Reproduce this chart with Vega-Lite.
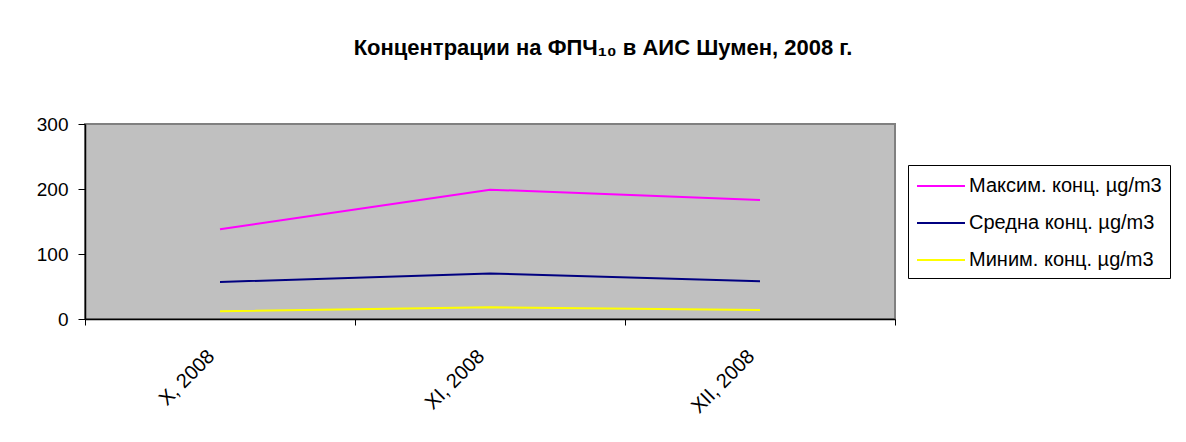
{
  "$schema": "https://vega.github.io/schema/vega-lite/v6.json",
  "autosize": {"type": "none"},
  "width": 810,
  "height": 195,
  "padding": {"left": 85, "top": 124, "right": 291, "bottom": 123},
  "background": "white",
  "title": {
    "text": "Концентрации на ФПЧ₁₀ в АИС Шумен, 2008 г.",
    "font": "Liberation Sans",
    "fontSize": 22,
    "fontWeight": "bold",
    "color": "black",
    "anchor": "middle",
    "frame": "group",
    "dx": 113,
    "baseline": "alphabetic",
    "offset": 38
  },
  "data": {
    "values": [
      {"month": "X, 2008", "series": "Максим. конц. µg/m3", "value": 138},
      {"month": "XI, 2008", "series": "Максим. конц. µg/m3", "value": 199},
      {"month": "XII, 2008", "series": "Максим. конц. µg/m3", "value": 183},
      {"month": "X, 2008", "series": "Средна конц. µg/m3", "value": 57},
      {"month": "XI, 2008", "series": "Средна конц. µg/m3", "value": 70},
      {"month": "XII, 2008", "series": "Средна конц. µg/m3", "value": 58},
      {"month": "X, 2008", "series": "Миним. конц. µg/m3", "value": 12},
      {"month": "XI, 2008", "series": "Миним. конц. µg/m3", "value": 18},
      {"month": "XII, 2008", "series": "Миним. конц. µg/m3", "value": 14}
    ]
  },
  "mark": {"type": "line", "strokeWidth": 2},
  "encoding": {
    "x": {
      "field": "month",
      "type": "nominal",
      "sort": ["X, 2008", "XI, 2008", "XII, 2008"],
      "bandPosition": 0.5,
      "scale": {"type": "band", "paddingInner": 0, "paddingOuter": 0},
      "axis": {
        "title": null,
        "labelAngle": -45,
        "labelAlign": "right",
        "labelBaseline": "middle",
        "labelOffset": -9,
        "labelFont": "Liberation Sans",
        "labelFontSize": 20,
        "labelColor": "black",
        "labelPadding": 28,
        "tickBand": "extent",
        "tickSize": 6,
        "tickColor": "black",
        "domainColor": "black",
        "domainWidth": 1.5,
        "grid": false
      }
    },
    "y": {
      "field": "value",
      "type": "quantitative",
      "scale": {"domain": [0, 300], "nice": false},
      "axis": {
        "title": null,
        "values": [0, 100, 200, 300],
        "labelFont": "Liberation Sans",
        "labelFontSize": 19,
        "labelColor": "black",
        "labelPadding": 10,
        "tickSize": 7,
        "tickColor": "black",
        "domainColor": "black",
        "domainWidth": 1.5,
        "grid": false
      }
    },
    "color": {
      "field": "series",
      "type": "nominal",
      "scale": {
        "domain": ["Максим. конц. µg/m3", "Средна конц. µg/m3", "Миним. конц. µg/m3"],
        "range": ["#FF00FF", "#000080", "#FFFF00"]
      },
      "legend": {
        "title": null,
        "orient": "none",
        "legendX": 823,
        "legendY": 41,
        "strokeColor": "black",
        "fillColor": "white",
        "padding": 8,
        "symbolType": "M-2,0H2",
        "symbolSize": 576,
        "symbolStrokeWidth": 2,
        "symbolOffset": 12,
        "labelOffset": 15,
        "labelFont": "Liberation Sans",
        "labelFontSize": 20,
        "labelColor": "black",
        "labelLimit": 400,
        "rowPadding": 14
      }
    }
  },
  "config": {
    "view": {"fill": "#C0C0C0", "stroke": "#808080", "strokeWidth": 2}
  }
}
